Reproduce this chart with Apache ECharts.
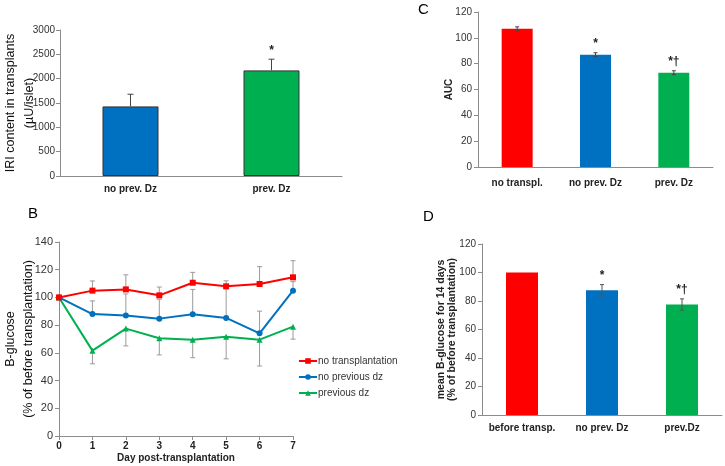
<!DOCTYPE html>
<html><head><meta charset="utf-8">
<script src="https://cdn.jsdelivr.net/npm/echarts@6/dist/echarts.min.js"></script>
<style>html,body{margin:0;padding:0;background:#fff}#c{width:725px;height:466px}</style>
</head><body><div id="c"></div>
<script>
// Panel A
const aCats = ['no prev. Dz', 'prev. Dz'];
const aVals = [1430, 2170];
const aErr = [250, 230];
const aMarks = ['', '*'];
// Panel C
const cCats = ['no transpl.', 'no prev. Dz', 'prev. Dz'];
const cVals = [107, 87, 73];
const cErr = [1.5, 1.5, 1.5];
const cMarks = ['', '*', '*†'];
// Panel D
const dCats = ['before transp.', 'no prev. Dz', 'prev.Dz'];
const dVals = [100, 87.5, 77.5];
const dErr = [0, 4, 4];
const dMarks = ['', '*', '*†'];
// Panel B
const days = [0, 1, 2, 3, 4, 5, 6, 7];
const redVals = [100, 104.9, 105.8, 101.5, 110.6, 108, 109.7, 114.5];
const redErrUp = [0, 7, 10.5, 6, 7.5, 4, 12.5, 12];
const blueVals = [100, 88, 87, 84.7, 87.8, 85.2, 74.1, 104.9];
const blueErrUp = [0, 9.5, 15.5, 14, 18, 22, 16, 6.5];
const greenVals = [100, 61.6, 77.5, 70.5, 69.5, 71.7, 69.5, 78.9];
const greenErrDown = [0, 9.5, 12.5, 12, 13, 16, 19, 9];
const seriesNames = ['no transplantation', 'no previous dz', 'previous dz'];

const RED = '#FF0000', BLUE = '#0070C0', GREEN = '#00B050';
const FONT = 'Liberation Sans';
const chart = echarts.init(document.getElementById('c'));

function errRender(mode, color, cap) {
  return function (params, api) {
    const x = api.value(0), y = api.value(1), e = api.value(2);
    const mark = api.value(3);
    const top = api.coord([x, mode === 'down' ? y : y + e]);
    const bot = api.coord([x, mode === 'up' ? y : y - e]);
    const children = [];
    if (e > 0) {
      children.push({type: 'line', shape: {x1: top[0], y1: top[1], x2: bot[0], y2: bot[1]}, style: {stroke: color, lineWidth: 1}});
      if (mode !== 'down') children.push({type: 'line', shape: {x1: top[0] - cap, y1: top[1], x2: top[0] + cap, y2: top[1]}, style: {stroke: color, lineWidth: 1}});
      if (mode !== 'up') children.push({type: 'line', shape: {x1: bot[0] - cap, y1: bot[1], x2: bot[0] + cap, y2: bot[1]}, style: {stroke: color, lineWidth: 1}});
    }
    if (mark && typeof mark === 'string') {
      children.push({type: 'text', x: top[0], y: top[1] - 3, style: {text: mark, align: 'center', verticalAlign: 'bottom', font: 'bold 12px ' + FONT, fill: '#222'}});
    }
    return {type: 'group', children};
  };
}

function makeBarData(vals, colors, border) {
  return vals.map((v, i) => ({value: v, itemStyle: {color: colors[i], borderColor: border, borderWidth: border ? 1 : 0}}));
}

const axisLineStyle = {lineStyle: {color: '#8c8c8c', width: 1}};
const tickLbl = (size) => ({color: '#333', fontSize: size, fontFamily: FONT, formatter: (v) => String(v)});
const panelTitle = (t, l, tp) => ({text: t, left: l, top: tp, padding: 0, textStyle: {fontSize: 15, fontWeight: 'normal', color: '#000', fontFamily: FONT}});

const option = {
  animation: false,
  textStyle: {fontFamily: FONT},
  title: [panelTitle('B', 28, 206), panelTitle('C', 418, 2), panelTitle('D', 423, 209)],
  legend: {
    orient: 'vertical', left: 293, top: 351, itemGap: 6, itemWidth: 18, itemHeight: 7,
    data: seriesNames,
    textStyle: {fontSize: 10, color: '#333', fontFamily: FONT, padding: [0, 0, 0, -4]}
  },
  grid: [
    {left: 60, right: 383, top: 30, bottom: 290, outerBoundsMode: 'none', containLabel: false},
    {left: 59, right: 432, top: 242, bottom: 30, outerBoundsMode: 'none', containLabel: false},
    {left: 478, right: 12, top: 12, bottom: 299, outerBoundsMode: 'none', containLabel: false},
    {left: 482, right: 3, top: 244, bottom: 51, outerBoundsMode: 'none', containLabel: false}
  ],
  xAxis: [
    {gridIndex: 0, type: 'category', data: aCats, axisLine: axisLineStyle, axisTick: {show: false},
      axisLabel: {interval: 0, color: '#222', fontSize: 10, fontWeight: 'bold', fontFamily: FONT, margin: 8}},
    {gridIndex: 1, type: 'value', min: 0, max: 7, interval: 1, axisLine: axisLineStyle,
      axisTick: {show: true, lineStyle: {color: '#8c8c8c'}, length: 4}, splitLine: {show: false},
      axisLabel: {color: '#222', fontSize: 10, fontWeight: 'bold', fontFamily: FONT, margin: 5},
      name: 'Day post-transplantation', nameLocation: 'middle', nameGap: 17, nameMoveOverlap: false,
      nameTextStyle: {fontSize: 10, fontWeight: 'bold', color: '#222', fontFamily: FONT}},
    {gridIndex: 2, type: 'category', data: cCats, axisLine: axisLineStyle, axisTick: {show: false},
      axisLabel: {interval: 0, color: '#222', fontSize: 10, fontWeight: 'bold', fontFamily: FONT, margin: 11}},
    {gridIndex: 3, type: 'category', data: dCats, axisLine: axisLineStyle, axisTick: {show: false},
      axisLabel: {interval: 0, color: '#222', fontSize: 10, fontWeight: 'bold', fontFamily: FONT, margin: 8}}
  ],
  yAxis: [
    {gridIndex: 0, type: 'value', min: 0, max: 3000, interval: 500, axisLine: {show: true, ...axisLineStyle},
      axisTick: {show: true, length: 4, lineStyle: {color: '#8c8c8c'}}, splitLine: {show: false}, axisLabel: {...tickLbl(10), margin: 5},
      name: 'IRI content in transplants\n(µU/islet)', nameLocation: 'middle', nameGap: 21, nameRotate: 90, nameMoveOverlap: false,
      nameTextStyle: {fontSize: 12.5, color: '#111', fontFamily: FONT, lineHeight: 19, align: 'center'}},
    {gridIndex: 1, type: 'value', min: 0, max: 140, interval: 20, axisLine: {show: true, ...axisLineStyle},
      axisTick: {show: true, length: 4, lineStyle: {color: '#8c8c8c'}}, splitLine: {show: false}, axisLabel: {...tickLbl(11), margin: 6},
      name: 'B-glucose\n(% of before transplantation)', nameLocation: 'middle', nameGap: 21, nameRotate: 90, nameMoveOverlap: false,
      nameTextStyle: {fontSize: 12.5, color: '#111', fontFamily: FONT, lineHeight: 18, align: 'center'}},
    {gridIndex: 2, type: 'value', min: 0, max: 120, interval: 20, axisLine: {show: true, ...axisLineStyle},
      axisTick: {show: true, length: 4, lineStyle: {color: '#8c8c8c'}}, splitLine: {show: false}, axisLabel: {...tickLbl(10), margin: 6},
      name: 'AUC', nameLocation: 'middle', nameGap: 24, nameRotate: 90, nameMoveOverlap: false,
      nameTextStyle: {fontSize: 10, fontWeight: 'bold', color: '#222', fontFamily: FONT}},
    {gridIndex: 3, type: 'value', min: 0, max: 120, interval: 20, axisLine: {show: true, ...axisLineStyle},
      axisTick: {show: true, length: 4, lineStyle: {color: '#8c8c8c'}}, splitLine: {show: false}, axisLabel: {...tickLbl(10), margin: 6},
      name: 'mean B-glucose for 14 days\n(% of before transplantation)', nameLocation: 'middle', nameGap: 25, nameRotate: 90, nameMoveOverlap: false,
      nameTextStyle: {fontSize: 10.5, fontWeight: 'bold', color: '#222', fontFamily: FONT, lineHeight: 10.5, align: 'center'}}
  ],
  series: [
    {type: 'bar', xAxisIndex: 0, yAxisIndex: 0, barWidth: 56, data: makeBarData(aVals, [BLUE, GREEN], '#333'), z: 2},
    {type: 'custom', xAxisIndex: 0, yAxisIndex: 0, renderItem: errRender('up', '#444', 3), z: 3,
      data: aVals.map((v, i) => [i, v, aErr[i], aMarks[i]])},
    {type: 'bar', xAxisIndex: 2, yAxisIndex: 2, barWidth: 31, data: makeBarData(cVals, [RED, BLUE, GREEN], null), z: 2},
    {type: 'custom', xAxisIndex: 2, yAxisIndex: 2, renderItem: errRender('both', '#444', 2), z: 3,
      data: cVals.map((v, i) => [i, v, cErr[i], cMarks[i]])},
    {type: 'bar', xAxisIndex: 3, yAxisIndex: 3, barWidth: 32, data: makeBarData(dVals, [RED, BLUE, GREEN], null), z: 2},
    {type: 'custom', xAxisIndex: 3, yAxisIndex: 3, renderItem: errRender('both', '#555', 2), z: 3,
      data: dVals.map((v, i) => [i, v, dErr[i], dMarks[i]])},
    {type: 'custom', xAxisIndex: 1, yAxisIndex: 1, renderItem: errRender('up', '#9a9a9a', 2.5), z: 1,
      data: days.map((d, i) => [d, redVals[i], redErrUp[i], ''])},
    {type: 'custom', xAxisIndex: 1, yAxisIndex: 1, renderItem: errRender('up', '#9a9a9a', 2.5), z: 1,
      data: days.map((d, i) => [d, blueVals[i], blueErrUp[i], ''])},
    {type: 'custom', xAxisIndex: 1, yAxisIndex: 1, renderItem: errRender('down', '#9a9a9a', 2.5), z: 1,
      data: days.map((d, i) => [d, greenVals[i], greenErrDown[i], ''])},
    {name: seriesNames[0], type: 'line', xAxisIndex: 1, yAxisIndex: 1, symbol: 'rect', symbolSize: 6,
      itemStyle: {color: RED}, lineStyle: {color: RED, width: 2}, data: days.map((d, i) => [d, redVals[i]]), z: 4},
    {name: seriesNames[1], type: 'line', xAxisIndex: 1, yAxisIndex: 1, symbol: 'circle', symbolSize: 6,
      itemStyle: {color: BLUE}, lineStyle: {color: BLUE, width: 2}, data: days.map((d, i) => [d, blueVals[i]]), z: 3},
    {name: seriesNames[2], type: 'line', xAxisIndex: 1, yAxisIndex: 1, symbol: 'triangle', symbolSize: 6,
      itemStyle: {color: GREEN}, lineStyle: {color: GREEN, width: 2}, data: days.map((d, i) => [d, greenVals[i]]), z: 3}
  ]
};
chart.setOption(option);
</script></body></html>
